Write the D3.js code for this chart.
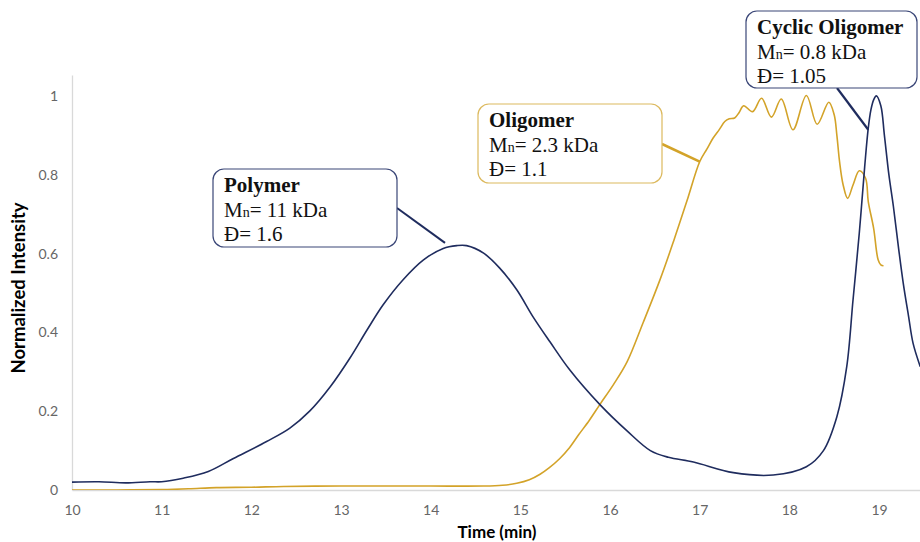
<!DOCTYPE html>
<html>
<head>
<meta charset="utf-8">
<script src="https://cdn.jsdelivr.net/npm/d3@7"></script>
<style>
  html, body { margin: 0; padding: 0; background: #fff; }
  svg { display: block; }
</style>
</head>
<body>
<svg id="chart"></svg>
<script>
// polymer + cyclic oligomer trace (navy)
const navyTime = [10.0, 10.3, 10.6, 10.87, 11.0, 11.24, 11.52, 11.8, 12.17, 12.43, 12.65, 12.88,
  13.1, 13.29, 13.47, 13.69, 13.92, 14.14, 14.29, 14.4, 14.59, 14.77, 14.96, 15.14, 15.33, 15.55,
  15.89, 16.19, 16.45, 16.65, 16.93, 17.375, 17.82, 18.19, 18.38, 18.53, 18.64, 18.71, 18.78, 18.84, 18.88,
  18.91, 18.94, 18.97, 19.02, 19.06, 19.11, 19.16, 19.22, 19.27, 19.33, 19.38, 19.46];
const navyValue = [0.020, 0.021, 0.018, 0.021, 0.021, 0.030, 0.047, 0.080, 0.123, 0.157, 0.200, 0.262,
  0.335, 0.406, 0.470, 0.533, 0.584, 0.613, 0.620, 0.620, 0.601, 0.563, 0.508, 0.440, 0.376, 0.305,
  0.216, 0.150, 0.100, 0.083, 0.071, 0.044, 0.038, 0.059, 0.100, 0.186, 0.313, 0.482, 0.652, 0.820, 0.918,
  0.965, 0.990, 1.000, 0.975, 0.900, 0.800, 0.720, 0.610, 0.525, 0.440, 0.372, 0.313];

// oligomer trace (gold)
const goldTime = [10.0, 10.5, 11.0, 11.3, 11.61, 12.0, 12.36, 13.0, 13.47, 14.0, 14.59, 14.8, 14.96,
  15.1, 15.22, 15.32, 15.44, 15.55, 15.65, 15.77, 15.89, 16.04, 16.19, 16.37, 16.56, 16.71, 16.86, 17.0, 17.08,
  17.15, 17.22, 17.28, 17.33, 17.39, 17.44, 17.49, 17.59, 17.69, 17.8, 17.91, 18.04, 18.19, 18.31,
  18.44, 18.5, 18.53, 18.56, 18.6, 18.65, 18.71, 18.78, 18.85, 18.88, 18.94, 18.99, 19.02, 19.05];
const goldValue = [0.000, 0.000, 0.001, 0.003, 0.006, 0.007, 0.009, 0.010, 0.010, 0.010, 0.010, 0.012, 0.017,
  0.026, 0.040, 0.056, 0.080, 0.108, 0.140, 0.177, 0.218, 0.268, 0.325, 0.425, 0.535, 0.632, 0.735, 0.833, 0.865,
  0.893, 0.915, 0.935, 0.942, 0.944, 0.958, 0.975, 0.960, 0.994, 0.946, 0.992, 0.914, 1.001, 0.928,
  0.984, 0.952, 0.900, 0.833, 0.774, 0.740, 0.774, 0.810, 0.791, 0.732, 0.664, 0.584, 0.571, 0.569];

const xTicks = [10, 11, 12, 13, 14, 15, 16, 17, 18, 19];
const yTicks = [0, 0.2, 0.4, 0.6, 0.8, 1];

// annotation labels: title, Mn value, dispersity, point on the trace
const labelTitle = ["Polymer", "Oligomer", "Cyclic Oligomer"];
const labelMn = ["11 kDa", "2.3 kDa", "0.8 kDa"];
const labelD = ["1.6", "1.1", "1.05"];
const labelAt = [[14.16, 0.627], [17.0, 0.833], [18.88, 0.914]];

const width = 920,
      height = 542,
      plotLeft = 72,
      plotBottom = 490,
      plotTop = 75;

const navy = "#1f2c5e",
      gold = "#d3a329",
      axisGrey = "#d9d9d9",
      tickGrey = "#666666";

const x = d3.scaleLinear().domain([10, 19.457]).range([plotLeft, width]);
const y = d3.scaleLinear().domain([0, 1.053]).range([plotBottom, plotTop]);

const svg = d3.select("#chart")
  .attr("width", width)
  .attr("height", height);

svg.append("defs").append("clipPath")
  .attr("id", "plot")
  .append("rect")
  .attr("x", plotLeft)
  .attr("y", 0)
  .attr("width", width - plotLeft)
  .attr("height", plotBottom);

// axes
const xAxis = svg.append("g")
  .attr("transform", "translate(0," + plotBottom + ")")
  .call(d3.axisBottom(x).tickValues(xTicks).tickSize(0).tickPadding(15).tickFormat(d3.format("d")));
const yAxis = svg.append("g")
  .attr("transform", "translate(" + plotLeft + ",0)")
  .call(d3.axisLeft(y).tickValues(yTicks).tickSize(0).tickPadding(14).tickFormat(d => d === 0 ? "0" : d3.format("~g")(d)));

[xAxis, yAxis].forEach(a => {
  a.select(".domain").attr("stroke", axisGrey).attr("stroke-width", 1.3);
  a.selectAll("text")
    .attr("fill", tickGrey)
    .style("font-family", "Lato, 'Open Sans', sans-serif")
    .style("font-size", "14px");
});

svg.append("text")
  .attr("x", 497)
  .attr("y", 538)
  .attr("text-anchor", "middle")
  .style("font-family", "Lato, 'Open Sans', sans-serif")
  .style("font-weight", "bold")
  .style("font-size", "17px")
  .text("Time (min)");

svg.append("text")
  .attr("transform", "translate(25,288) rotate(-90)")
  .attr("text-anchor", "middle")
  .style("font-family", "Lato, 'Open Sans', sans-serif")
  .style("font-weight", "bold")
  .style("font-size", "18.5px")
  .text("Normalized Intensity");

// traces
const line = d3.line()
  .x(d => x(d[0]))
  .y(d => y(d[1]))
  .curve(d3.curveCatmullRom.alpha(0.5));

const traces = svg.append("g").attr("clip-path", "url(#plot)");

traces.append("path")
  .datum(goldTime.map((t, i) => [t, goldValue[i]]))
  .attr("fill", "none")
  .attr("stroke", gold)
  .attr("stroke-width", 1.6)
  .attr("d", line);

traces.append("path")
  .datum(navyTime.map((t, i) => [t, navyValue[i]]))
  .attr("fill", "none")
  .attr("stroke", navy)
  .attr("stroke-width", 1.6)
  .attr("d", line);

// annotation boxes
const boxes = [
  {x: 213, y: 169, w: 184, h: 78, edge: [397, 208], color: navy, border: "#3a4677", lw: 2},
  {x: 478, y: 104, w: 184, h: 79, edge: [662, 144], color: gold, border: "#dcb95e", lw: 2.5},
  {x: 746, y: 11, w: 171, h: 77, edge: [837, 88], color: navy, border: "#3a4677", lw: 2.2}
];

boxes.forEach((b, i) => {
  const g = svg.append("g");
  g.append("line")
    .attr("x1", b.edge[0])
    .attr("y1", b.edge[1])
    .attr("x2", x(labelAt[i][0]))
    .attr("y2", y(labelAt[i][1]))
    .attr("stroke", b.color)
    .attr("stroke-width", b.lw);

  g.append("rect")
    .attr("x", b.x)
    .attr("y", b.y)
    .attr("width", b.w)
    .attr("height", b.h)
    .attr("rx", 11)
    .attr("fill", "#fff")
    .attr("stroke", b.border)
    .attr("stroke-width", 1.2);

  const t = g.append("text")
    .attr("x", b.x + 11)
    .attr("y", b.y + 23)
    .attr("fill", "#111")
    .style("font-family", "'Liberation Serif', 'DejaVu Serif', serif")
    .style("font-size", "21px");

  t.append("tspan")
    .style("font-weight", "bold")
    .text(labelTitle[i]);

  const mn = t.append("tspan")
    .attr("x", b.x + 11)
    .attr("dy", 24.5);
  mn.append("tspan").text("M");
  mn.append("tspan").style("font-size", "14px").text("n");
  mn.append("tspan").text("= " + labelMn[i]);

  t.append("tspan")
    .attr("x", b.x + 11)
    .attr("dy", 24.5)
    .text("\u0110= " + labelD[i]);
});
</script>
</body>
</html>
